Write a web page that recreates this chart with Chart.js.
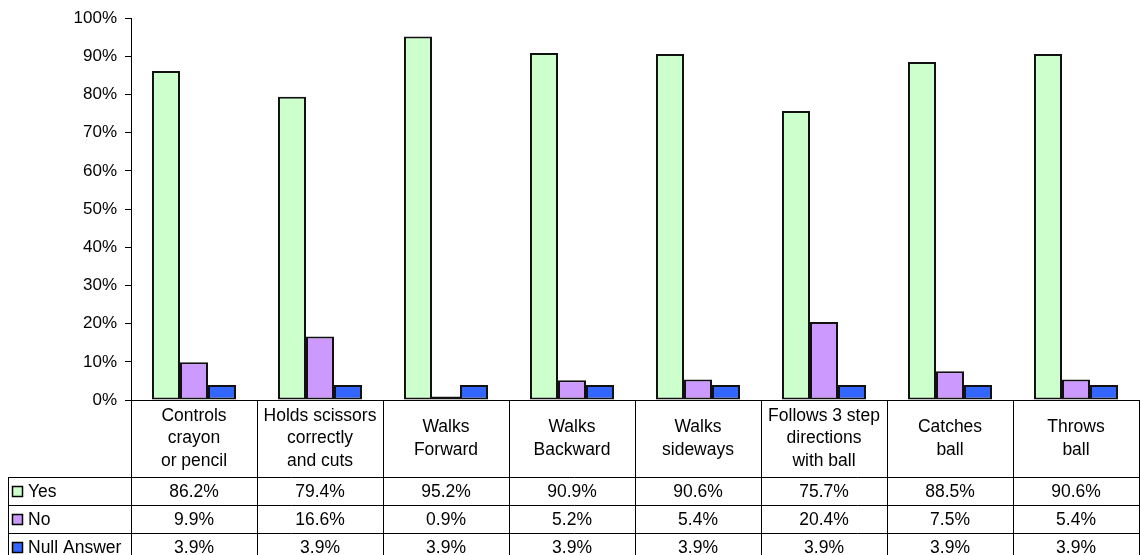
<!DOCTYPE html>
<html>
<head>
<meta charset="utf-8">
<script src="https://cdn.jsdelivr.net/npm/chart.js@4/dist/chart.umd.min.js"></script>
<style>
  html, body { margin: 0; padding: 0; background: #fff; }
  #wrap { width: 1140px; height: 555px; }
</style>
</head>
<body>
<div id="wrap"><canvas id="myChart" width="1140" height="555"></canvas></div>
<script>
'use strict';

// categories, one line per array entry as in the original table header
const categories = [
    ['Controls', 'crayon', 'or pencil'],
    ['Holds scissors', 'correctly', 'and cuts'],
    ['Walks', 'Forward'],
    ['Walks', 'Backward'],
    ['Walks', 'sideways'],
    ['Follows 3 step', 'directions', 'with ball'],
    ['Catches', 'ball'],
    ['Throws', 'ball']
];
const seriesNames = ['Yes', 'No', 'Null Answer'];
const yesValues = [86.2, 79.4, 95.2, 90.9, 90.6, 75.7, 88.5, 90.6];
const noValues = [9.9, 16.6, 0.9, 5.2, 5.4, 20.4, 7.5, 5.4];
const nullValues = [3.9, 3.9, 3.9, 3.9, 3.9, 3.9, 3.9, 3.9];
const yTicks = [0, 10, 20, 30, 40, 50, 60, 70, 80, 90, 100];

const colors = ['#CCFFCC', '#CC99FF', '#3366FF'];
const fontFamily = '"Liberation Sans", Arial, sans-serif';

const headerH = 77;
const rowH = 28;
const tableLeft = 8;

// draws the data table under the plot, lined up with the category scale
const tablePlugin = {
    id: 'dataTable',
    afterDraw(chart) {
        const ctx = chart.ctx;
        const area = chart.chartArea;
        const xScale = chart.scales.x;
        const catW = (area.right - area.left) / categories.length;
        const top = area.bottom;
        const rowsTop = top + headerH;
        const bottom = chart.height + 5;
        const right = chart.width + 2;

        ctx.save();
        ctx.strokeStyle = '#000';
        ctx.lineWidth = 1;
        ctx.beginPath();
        // axis line
        ctx.moveTo(area.left, top + 0.5);
        ctx.lineTo(right, top + 0.5);
        // category dividers
        for (let i = 0; i <= categories.length; i++) {
            const x = Math.round(area.left + i * catW) + 0.5;
            ctx.moveTo(x, top);
            ctx.lineTo(x, bottom);
        }
        // row lines
        for (let r = 0; r <= seriesNames.length; r++) {
            const y = Math.round(rowsTop + r * rowH) + 0.5;
            ctx.moveTo(tableLeft, y);
            ctx.lineTo(right, y);
        }
        ctx.moveTo(tableLeft + 0.5, rowsTop);
        ctx.lineTo(tableLeft + 0.5, bottom);
        ctx.stroke();

        ctx.fillStyle = '#000';
        ctx.font = '17.5px ' + fontFamily;
        ctx.textAlign = 'center';
        ctx.textBaseline = 'middle';

        // header labels
        const lineH = 22.5;
        categories.forEach((lines, i) => {
            const cx = xScale.getPixelForValue(i);
            const cy = top + headerH / 2;
            lines.forEach((txt, k) => {
                ctx.fillText(txt, cx, cy + (k - (lines.length - 1) / 2) * lineH);
            });
        });

        // rows
        const series = [yesValues, noValues, nullValues];
        series.forEach((vals, r) => {
            const cy = rowsTop + r * rowH + rowH / 2 + 1;
            // legend key
            ctx.fillStyle = colors[r];
            ctx.lineWidth = 1.5;
            ctx.fillRect(12.5, Math.round(cy - 6) + 0.5, 10, 10);
            ctx.strokeRect(12.5, Math.round(cy - 6) + 0.5, 10, 10);
            ctx.fillStyle = '#000';
            ctx.textAlign = 'left';
            ctx.fillText(seriesNames[r], 28, cy);
            ctx.textAlign = 'center';
            vals.forEach((v, i) => {
                ctx.fillText(v.toFixed(1) + '%', xScale.getPixelForValue(i), cy);
            });
        });
        ctx.restore();
    }
};

const canvasEl = document.getElementById('myChart');

function makeDataset(label, data, color) {
    return {
        label: label,
        data: data,
        backgroundColor: color,
        borderColor: '#111',
        borderWidth: 2,
        borderSkipped: false,
        categoryPercentage: 0.667,
        barPercentage: 1.0
    };
}

new Chart(canvasEl, {
    type: 'bar',
    data: {
        labels: categories.map(c => c.join(' ')),
        datasets: [
            makeDataset(seriesNames[0], yesValues, colors[0]),
            makeDataset(seriesNames[1], noValues, colors[1]),
            makeDataset(seriesNames[2], nullValues, colors[2])
        ]
    },
    options: {
        responsive: false,
        animation: false,
        layout: { padding: { top: 18, right: 1, bottom: 555 - 400, left: 0 } },
        plugins: {
            legend: { display: false },
            tooltip: { enabled: false }
        },
        scales: {
            x: { display: false },
            y: {
                min: 0,
                max: 100,
                afterBuildTicks(scale) {
                    scale.ticks = yTicks.map(v => ({ value: v }));
                },
                afterFit(scale) { scale.width = 131; },
                border: { display: true, color: '#000', width: 1 },
                grid: {
                    drawOnChartArea: false,
                    drawTicks: true,
                    tickLength: 6,
                    color: '#000'
                },
                ticks: {
                    color: '#000',
                    padding: 8,
                    font: { family: fontFamily, size: 17 },
                    callback: v => v + '%'
                }
            }
        }
    },
    plugins: [tablePlugin]
});
</script>
</body>
</html>
